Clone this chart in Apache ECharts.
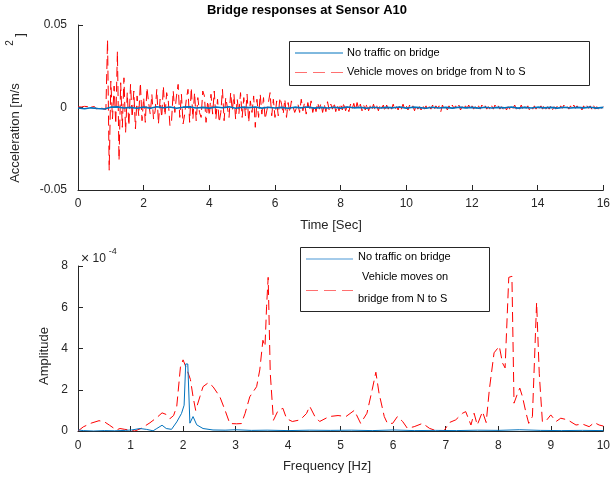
<!DOCTYPE html>
<html>
<head>
<meta charset="utf-8">
<script src="https://cdn.jsdelivr.net/npm/echarts@6/dist/echarts.min.js"></script>
<style>
html,body{margin:0;padding:0;background:#fff;}
#chart{width:613px;height:479px;}
</style>
</head>
<body>
<div id="chart"></div>
<script>
// ---------- Top panel: time history (values in units of 1e-3 m/s^2) ----------
const timeStepVehicle = 0.05; // s
const accelVehicle = [
  0.4,-0.6,0.3,-0.9,0.7,-0.2,0.5,-1.1,0.2,-0.4,
  0.6,-0.8,0.1,-0.5,0.9,-0.7,0.3,-1.2,41,-38,
  16,-7,13,-10,34,-32,15,-12,18,-15,
  9,-11,14,-6,10,-13,7,-5,15,-8,
  6,-9,12,3,-4,8,-7,-2,11,-10,
  5,-6,13,-5,9,4,-11,-8,10,-3,
  7,14,-6,8,-10,-4,5,11,-9,12,
  -7,9,-8,6,-3,-6,10,7,-9,4,
  -5,8,-4,10,-7,5,-9,-3,11,-8,
  6,7,-6,9,-2,8,-7,5,-4,9,
  -6,6,-5,8,-9,4,-3,7,-12,5,
  -6,8,-4,6,-7,-2,3,9,-5,5,
  -6,4,-5,6,2,-4,5,-6,3,-3,
  4,5,-3,-4,2,-3,5,-2,3,-4,
  3,-2,4,-3,1.5,-2.5,3,-1,2.5,-3,
  2,-2.5,3.5,-1.5,2,-1,3,-2.5,1.5,-2,
  2.5,-1.5,3,-2,1,-2.5,2,-1,2.5,-1.5,
  3,-1,2,-2,1.5,-1.5,2.5,-2,1,-1.5,
  2,-1.5,1,-2,2,-0.5,1.5,-2.5,1.5,-1,
  1.5,-1,2,-1.5,0.5,-1.5,1.5,-1,2,-1,
  1,-1.5,1.5,-0.5,1,-2,1.5,-1,0.5,-1.5,
  1.5,-1,1,-2,0.5,-1,1.5,-1.5,1,-0.5,
  1,-2.5,1.5,-1,0.5,-1.5,1,-1,1.5,-0.5,
  1,-1,1.5,-1.5,0.5,-1,1,-0.5,1.5,-1,
  1,-1,0.5,-1.5,1,-1,1.5,-0.5,1,-1,
  0.5,-1.5,1,-1,1.5,-0.5,1,-1,0.5,-1,
  1,-1.5,0.5,-1,1,-0.5,1.5,-1,1,-1,
  1.5,-1,1,-0.5,1,-1.5,0.5,-1,1,-1,
  1,-0.5,1,-1,1.5,-1,0.5,-1,1,-1.5,
  0.5,-1,1,-1,1,-0.5,1.5,-1,0.5,-1,
  1,-1,1.5,-0.5,1,-1,0.5,-1.5,1,-1,
  1,-0.5,1,-1,1.5,-1,0.5,-1,1,-0.5,
  0.5
];
const timeStepNoTraffic = 0.2; // s
const accelNoTraffic = [
  -0.3,-0.8,-0.2,-0.6,-0.9,0.2,0.4,-0.3,0.1,-0.5,
  0.3,-0.4,0.5,-0.2,0.3,-0.5,0.2,0.4,-0.3,0.1,
  -0.4,0.3,-0.2,0.4,-0.5,0.2,-0.1,0.3,-0.4,0.2,
  -0.3,0.1,-0.5,0.2,-0.2,0.3,-0.4,0.1,-0.3,0.2,
  -0.4,0.3,-0.2,0.1,-0.5,0.2,-0.3,0.1,-0.2,0.3,
  -0.4,0.2,-0.1,-0.5,0.2,-0.3,0.1,-0.4,0.2,-0.2,
  0.1,-0.4,0.2,-0.3,0.1,-0.2,0.3,-0.4,0.1,-0.3,
  0.2,-0.2,0.1,-0.4,0.2,-0.3,0.1,-0.2,0.2,-0.4,
  0.1
];
const timeTicks = [0,2,4,6,8,10,12,14,16];
const accelTicks = [-50,0,50]; // ×1e-3

// ---------- Bottom panel: spectrum (values in units of 1e-4) ----------
const freqVehicle = [0,0.1,0.25,0.4,0.5,0.6,0.73,0.8,0.89,0.98,1.08,1.2,1.37,1.5,1.6,1.68,1.75,1.82,1.88,1.95,2.0,2.07,2.14,2.19,2.24,2.32,2.38,2.48,2.57,2.7,2.8,2.89,3.02,3.11,3.18,3.27,3.4,3.46,3.52,3.56,3.59,3.62,3.66,3.72,3.81,3.9,3.97,4.08,4.23,4.35,4.41,4.51,4.6,4.78,4.95,5.1,5.26,5.38,5.5,5.6,5.67,5.73,5.83,5.89,5.99,6.08,6.18,6.27,6.4,6.56,6.69,6.81,6.97,7.07,7.19,7.32,7.38,7.48,7.54,7.6,7.7,7.77,7.83,7.92,8.02,8.08,8.13,8.2,8.26,8.3,8.37,8.41,8.46,8.53,8.58,8.65,8.73,8.78,8.84,8.9,9.0,9.1,9.19,9.32,9.48,9.6,9.73,9.83,9.92,10];
const ampVehicle  = [0,0.2,0.38,0.5,0.45,0.28,0.05,0.12,0.08,0.05,0,0.12,0.4,0.65,0.88,0.8,0.6,0.75,1.2,3.1,3.45,3.0,2.5,1.66,1.0,1.66,2.15,2.34,2.15,1.66,1.0,0.36,0.35,0.36,0.85,1.66,2.15,2.96,4.4,4.1,6.05,7.45,2.8,0.52,1.0,1.1,0.6,0.46,0.54,0.85,1.2,0.7,0.46,0.7,0.75,0.7,1.0,0.37,0.86,2.0,2.85,1.84,0.7,0.37,0.37,0.7,0.46,0.13,0.21,0.37,0.13,0.02,0.02,0.41,0.54,0.86,0.94,0.29,0.86,0.29,0.94,0.41,2.0,3.79,4.11,3.3,3.06,7.45,7.5,1.35,1.84,2.08,1.67,0.86,0.37,0.7,6.23,2.8,0.46,0.46,0.78,0.46,0.62,0.54,0.29,0.34,0.21,0.41,0.29,0.24];
const freqNoTraffic = [0,0.1,0.3,0.5,0.7,0.9,1.02,1.18,1.3,1.43,1.5,1.6,1.68,1.78,1.88,1.97,2.02,2.05,2.09,2.13,2.19,2.26,2.38,2.57,2.8,3.0,3.3,3.6,4.0,4.4,4.8,5.2,5.6,6.0,6.4,6.8,7.2,7.6,8.0,8.4,8.8,9.2,9.6,10];
const ampNoTraffic  = [0.05,0.02,0,0.02,0.01,0.03,0.05,0.12,0.08,0.01,0.12,0.28,0.12,0.08,0.44,0.85,1.25,3.25,3.25,0.38,0.7,0.3,0.12,0.05,0.04,0.06,0.03,0.04,0.02,0.04,0.03,0.04,0.02,0.05,0.02,0.03,0.02,0.04,0.03,0.06,0.03,0.02,0.03,0.02];
const freqTicks = [0,1,2,3,4,5,6,7,8,9,10];
const ampTicks = [0,2,4,6,8]; // ×1e-4

const seriesNames = ['No traffic on bridge', 'Vehicle moves on bridge from N to S'];

// ---------- build data ----------
const vehicleTop = accelVehicle.map((v,i)=>[i*timeStepVehicle, v]);
const noTrafficTop = accelNoTraffic.map((v,i)=>[i*timeStepNoTraffic, v]);
const vehicleBot = freqVehicle.map((f,i)=>[f, ampVehicle[i]]);
const noTrafficBot = freqNoTraffic.map((f,i)=>[f, ampNoTraffic[i]]);

const FONT = 'Liberation Sans, Arial, Helvetica, sans-serif';
const AX = '#262626';
const RED = '#ff0000';
const BLUE = '#0072BD';
const DASH = [10,5];

function axisCommon(){
  return {
    axisLine:{show:true,onZero:false,lineStyle:{color:AX,width:1}},
    axisTick:{show:true,inside:true,length:5,lineStyle:{color:AX}},
    splitLine:{show:false},
    axisLabel:{color:AX,fontSize:12,fontFamily:FONT}
  };
}

const chart = echarts.init(document.getElementById('chart'), null, {renderer:'canvas'});
const option = {
  animation:false,
  backgroundColor:'#fff',
  grid:[
    {left:78,right:8,top:25,height:165},
    {left:78,right:8,top:266,height:165}
  ],
  xAxis:[
    Object.assign(axisCommon(),{gridIndex:0,type:'value',min:timeTicks[0],max:timeTicks[timeTicks.length-1],interval:timeTicks[1]-timeTicks[0]}),
    Object.assign(axisCommon(),{gridIndex:1,type:'value',min:freqTicks[0],max:freqTicks[freqTicks.length-1],interval:freqTicks[1]-freqTicks[0]})
  ],
  yAxis:[
    Object.assign(axisCommon(),{gridIndex:0,type:'value',min:accelTicks[0],max:accelTicks[accelTicks.length-1],interval:accelTicks[1]-accelTicks[0]}),
    Object.assign(axisCommon(),{gridIndex:1,type:'value',min:ampTicks[0],max:ampTicks[ampTicks.length-1],interval:ampTicks[1]-ampTicks[0]})
  ],
  series:[
    {name:seriesNames[1],type:'line',xAxisIndex:0,yAxisIndex:0,data:vehicleTop,showSymbol:false,
     lineStyle:{color:RED,width:1,type:DASH},z:2},
    {name:seriesNames[0],type:'line',xAxisIndex:0,yAxisIndex:0,data:noTrafficTop,showSymbol:false,
     lineStyle:{color:BLUE,width:1.6},z:3},
    {name:seriesNames[0],type:'line',xAxisIndex:1,yAxisIndex:1,data:noTrafficBot,showSymbol:false,
     lineStyle:{color:BLUE,width:1},z:3},
    {name:seriesNames[1],type:'line',xAxisIndex:1,yAxisIndex:1,data:vehicleBot,showSymbol:false,
     lineStyle:{color:RED,width:1,type:DASH},z:2}
  ],
  graphic:[
    // title
    {type:'text',x:307,y:10,style:{text:'Bridge responses at Sensor A10',font:'bold 13px '+FONT,fill:'#000',align:'center',verticalAlign:'middle'}},
    // axis names
    {type:'text',x:331,y:225,style:{text:'Time [Sec]',font:'13px '+FONT,fill:AX,align:'center',verticalAlign:'middle'}},
    {type:'text',x:327,y:466,style:{text:'Frequency [Hz]',font:'13px '+FONT,fill:AX,align:'center',verticalAlign:'middle'}},
    {type:'text',x:44,y:356,rotation:Math.PI/2,style:{text:'Amplitude',font:'13px '+FONT,fill:AX,align:'center',verticalAlign:'middle'}},
    {type:'text',x:15,y:133,rotation:Math.PI/2,style:{text:'Acceleration [m/s',font:'13px '+FONT,fill:AX,align:'center',verticalAlign:'middle'}},
    {type:'text',x:10,y:43,rotation:Math.PI/2,style:{text:'2',font:'10px '+FONT,fill:AX,align:'center',verticalAlign:'middle'}},
    {type:'text',x:20,y:35,rotation:Math.PI/2,style:{text:']',font:'13px '+FONT,fill:AX,align:'center',verticalAlign:'middle'}},
    // exponent label
    {type:'text',x:81,y:259,style:{text:'{a|×}{b| 10}{c|-4}',verticalAlign:'middle',rich:{
      a:{font:'14px '+FONT,fill:AX,verticalAlign:'middle'},
      b:{font:'12px '+FONT,fill:AX,verticalAlign:'middle'},
      c:{font:'9px '+FONT,fill:AX,verticalAlign:'bottom',padding:[0,0,14,3]}
    }}},
    // top legend
    {type:'rect',shape:{x:289.5,y:41.5,width:300,height:44},style:{fill:'#fff',stroke:AX,lineWidth:1},z:10},
    {type:'line',shape:{x1:295,y1:53,x2:343,y2:53},style:{stroke:BLUE,lineWidth:1},z:11},
    {type:'text',x:347,y:53,style:{text:seriesNames[0],font:'11px '+FONT,fill:'#000',verticalAlign:'middle'},z:11},
    {type:'line',shape:{x1:295,y1:72.5,x2:343,y2:72.5},style:{stroke:'#ff7070',lineWidth:1,lineDash:[12,6]},z:11},
    {type:'text',x:347,y:72,style:{text:seriesNames[1],font:'11px '+FONT,fill:'#000',verticalAlign:'middle'},z:11},
    // bottom legend
    {type:'rect',shape:{x:300.5,y:247.5,width:189,height:64},style:{fill:'#fff',stroke:AX,lineWidth:1},z:10},
    {type:'line',shape:{x1:306,y1:259,x2:353,y2:259},style:{stroke:'#4a98d6',lineWidth:1.2},z:11},
    {type:'text',x:358,y:257,style:{text:seriesNames[0],font:'11px '+FONT,fill:'#000',verticalAlign:'middle'},z:11},
    {type:'line',shape:{x1:306,y1:290.5,x2:353,y2:290.5},style:{stroke:'#ff7070',lineWidth:1,lineDash:[12,6]},z:11},
    {type:'text',x:362,y:277,style:{text:'Vehicle moves on',font:'11px '+FONT,fill:'#000',verticalAlign:'middle'},z:11},
    {type:'text',x:358,y:299,style:{text:'bridge from N to S',font:'11px '+FONT,fill:'#000',verticalAlign:'middle'},z:11}
  ]
};
// tick label formatting (MATLAB style)
option.yAxis[0].axisLabel.formatter = v => (v/1000).toString();
option.yAxis[0].axisLabel.margin = 11;
option.yAxis[1].axisLabel.margin = 10;
option.xAxis[0].axisLabel.margin = 8;
option.xAxis[1].axisLabel.margin = 9;
chart.setOption(option);
</script>
</body>
</html>
